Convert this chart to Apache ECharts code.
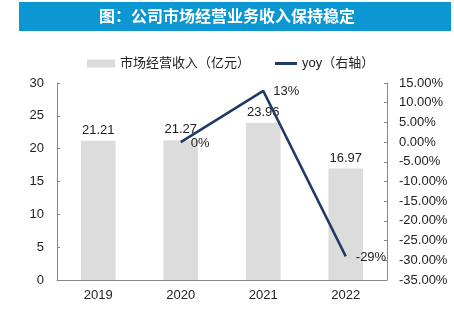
<!DOCTYPE html>
<html><head><meta charset="utf-8">
<script src="https://cdn.jsdelivr.net/npm/echarts@6/dist/echarts.min.js"></script>
<style>html,body{margin:0;padding:0;background:#fff}#c{width:454px;height:327px}</style>
</head><body><div id="c"></div>
<script>
const titleText = '图：公司市场经营业务收入保持稳定';
const categories = ['2019','2020','2021','2022'];
const revenue = [21.21, 21.27, 23.96, 16.97];
const yoy = [null, 0, 13, -29];
const leftTicks = {min:0, max:30, interval:5};
const rightTicks = {min:-35, max:15, interval:5};
const barName = '市场经营收入（亿元）';
const lineName = 'yoy（右轴）';

const font = '"Liberation Sans", Arial, "Noto Sans CJK SC", sans-serif';
const chart = echarts.init(document.getElementById('c'));
chart.setOption({
  animation:false,
  textStyle:{fontFamily:font},
  graphic:[
    {type:'rect', shape:{x:19,y:2,width:432,height:29}, style:{fill:'#0c96d2'}},
    {type:'text', left:'center', top:8, style:{text:titleText, fill:'#fff', font:'bold 16px "Noto Sans CJK SC", sans-serif', textAlign:'center'}}
  ],
  legend:[{
    top:52, left:82, itemWidth:28, itemHeight:8, itemGap:3,
    textStyle:{fontSize:13,color:'#222',fontFamily:font},
    data:[{name:barName, icon:'rect'}]
  },{
    top:52, left:270, itemWidth:22, itemHeight:3, itemGap:3,
    textStyle:{fontSize:13,color:'#222',fontFamily:font},
    data:[{name:lineName, icon:'rect'}]
  }],
  grid:{left:57, right:67, top:83, bottom:47},
  xAxis:{
    type:'category', data:categories,
    axisLine:{lineStyle:{color:'#888'}},
    axisTick:{inside:true, length:4, lineStyle:{color:'#888'}},
    axisLabel:{color:'#222', fontSize:13, margin:9}
  },
  yAxis:[
    {type:'value', min:leftTicks.min, max:leftTicks.max, interval:leftTicks.interval,
     axisLine:{show:true, lineStyle:{color:'#888'}},
     axisTick:{show:true, inside:true, length:3, lineStyle:{color:'#888'}},
     splitLine:{show:false},
     axisLabel:{color:'#222', fontSize:13, margin:13}},
    {type:'value', min:rightTicks.min, max:rightTicks.max, interval:rightTicks.interval, position:'right',
     axisLine:{show:true, lineStyle:{color:'#888'}},
     axisTick:{show:true, inside:true, length:3, lineStyle:{color:'#888'}},
     splitLine:{show:false},
     axisLabel:{color:'#222', fontSize:13, margin:12, formatter:v=>v.toFixed(2)+'%'}}
  ],
  series:[
    {name:barName, type:'bar', data:revenue, barWidth:'42%', itemStyle:{color:'#dcdcdc'},
     label:{show:true, position:'top', color:'#222', fontSize:13, distance:4}},
    {name:lineName, type:'line', yAxisIndex:1, data:yoy, symbol:'circle', symbolSize:0.1, showSymbol:true,
     lineStyle:{color:'#1f3b63', width:2.5}, itemStyle:{color:'#1f3b63'},
     label:{show:true, position:'right', color:'#222', fontSize:13, distance:10, offset:[0,1], formatter:p=>p.value+'%'}}
  ]
});
</script></body></html>
